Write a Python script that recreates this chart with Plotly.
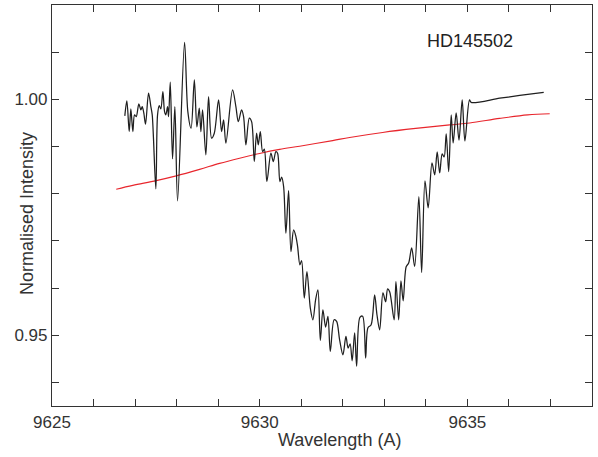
import plotly.graph_objects as go

# Observed spectrum (black)
wave_obs = [9626.753, 9626.802, 9626.859, 9626.898, 9626.946, 9626.987, 9627.028, 9627.091,
            9627.139, 9627.172, 9627.211, 9627.252, 9627.324, 9627.380, 9627.413, 9627.500,
            9627.541, 9627.582, 9627.620, 9627.669, 9627.710, 9627.741, 9627.782, 9627.806,
            9627.847, 9627.902, 9627.958, 9628.023, 9628.191, 9628.271, 9628.348, 9628.427,
            9628.488, 9628.545, 9628.584, 9628.625, 9628.704, 9628.769, 9628.842, 9628.907,
            9629.010, 9629.082, 9629.131, 9629.186, 9629.347, 9629.427, 9629.485, 9629.564,
            9629.612, 9629.668, 9629.750, 9629.805, 9629.870, 9629.925, 9629.966, 9630.015,
            9630.070, 9630.111, 9630.173, 9630.270, 9630.328, 9630.390, 9630.431, 9630.487,
            9630.528, 9630.576, 9630.631, 9630.696, 9630.752, 9630.817, 9630.872, 9630.913,
            9630.968, 9631.009, 9631.074, 9631.137, 9631.219, 9631.281, 9631.346, 9631.402,
            9631.460, 9631.522, 9631.587, 9631.643, 9631.700, 9631.792, 9631.852, 9631.924,
            9632.004, 9632.076, 9632.129, 9632.177, 9632.226, 9632.286, 9632.334, 9632.413,
            9632.478, 9632.551, 9632.606, 9632.683, 9632.767, 9632.823, 9632.888, 9632.967,
            9633.032, 9633.080, 9633.129, 9633.237, 9633.280, 9633.345, 9633.401, 9633.454,
            9633.526, 9633.586, 9633.659, 9633.731, 9633.832, 9633.899, 9633.979, 9634.056,
            9634.148, 9634.213, 9634.273, 9634.333, 9634.393, 9634.441, 9634.490, 9634.550,
            9634.610, 9634.658, 9634.730, 9634.798, 9634.875, 9634.940, 9635.051, 9635.092,
            9635.778, 9636.260, 9636.838]
flux_obs = [0.99649, 0.99967, 0.99316, 0.99797, 0.99316, 0.99670, 0.99634, 0.99903,
            0.99776, 0.99846, 0.99706, 0.99473, 1.00130, 0.99846, 0.99670, 0.98102,
            0.99670, 0.99867, 0.99797, 1.00164, 0.99740, 0.99670, 0.99846, 0.99634,
            1.00363, 0.98738, 0.99846, 0.97848, 1.01210, 0.99734, 0.99388, 1.00411,
            0.99416, 0.99812, 0.99316, 0.99776, 0.98823, 1.00058, 0.99176, 0.99282,
            0.99988, 0.99316, 0.99564, 0.99070, 1.00200, 0.99846, 0.99528, 0.99776,
            0.99634, 0.99035, 0.99600, 0.99528, 0.98681, 0.99282, 0.99035, 0.99316,
            0.98893, 0.98943, 0.98257, 0.98859, 0.98681, 0.98893, 0.98859, 0.98257,
            0.98350, 0.98151, 0.97164, 0.98067, 0.96774, 0.97234, 0.97092, 0.96880,
            0.96493, 0.96584, 0.95787, 0.96351, 0.95575, 0.95328, 0.95751, 0.95963,
            0.94889, 0.95539, 0.95173, 0.95398, 0.94656, 0.95328, 0.95292, 0.94904,
            0.94586, 0.94974, 0.94728, 0.94819, 0.94459, 0.95052, 0.94343, 0.95381,
            0.95402, 0.94516, 0.95158, 0.95222, 0.95857, 0.95434, 0.95116, 0.95900,
            0.95709, 0.95984, 0.95921, 0.95328, 0.96139, 0.95328, 0.96154, 0.95730,
            0.96450, 0.96529, 0.96853, 0.96457, 0.97939, 0.96330, 0.98272, 0.97700,
            0.98653, 0.98399, 0.98886, 0.98441, 0.98844, 0.98780, 0.99268, 0.98469,
            0.99670, 0.99077, 0.99712, 0.99134, 0.99988, 0.99119, 0.99988, 0.99935,
            1.00024, 1.00083, 1.00147]

# Model / continuum curve (red)
wave_model = [9626.546, 9626.946, 9627.510, 9627.991, 9628.553, 9629.034, 9629.516, 9629.998,
              9630.479, 9630.961, 9631.756, 9632.165, 9632.960, 9633.755, 9634.574, 9635.056,
              9635.778, 9636.452, 9636.982]
flux_model = [0.98096, 0.98177, 0.98278, 0.98378, 0.98516, 0.98643, 0.98753, 0.98854,
              0.98939, 0.99007, 0.99126, 0.99193, 0.99299, 0.99384, 0.99458, 0.99500,
              0.99596, 0.99670, 0.99695]

star_name = "HD145502"
x_title = "Wavelength (A)"
y_title = "Normalised Intensity"

FONT = "Liberation Sans, Arial, sans-serif"
AX = "#333333"

fig = go.Figure()
fig.add_trace(go.Scatter(x=wave_model, y=flux_model, mode="lines",
                         line=dict(color="#e8262d", width=1.1, shape="spline", smoothing=1.0),
                         showlegend=False, hoverinfo="skip"))
fig.add_trace(go.Scatter(x=wave_obs, y=flux_obs, mode="lines",
                         line=dict(color="#1f1f1f", width=1.25, shape="spline", smoothing=0.9),
                         showlegend=False, hoverinfo="skip"))

fig.add_annotation(x=9635.07, y=1.0124, xref="x", yref="y", text=star_name,
                   showarrow=False, xanchor="center", yanchor="middle",
                   font=dict(family=FONT, size=18, color="#222222"))
fig.add_annotation(x=0.533, y=-0.085, xref="paper", yref="paper", text=x_title,
                   showarrow=False, xanchor="center", yanchor="middle",
                   font=dict(family=FONT, size=18, color=AX))
fig.add_annotation(x=-0.046, y=0.479, xref="paper", yref="paper", text=y_title,
                   textangle=-90, showarrow=False, xanchor="center", yanchor="middle",
                   font=dict(family=FONT, size=18, color=AX))

fig.update_xaxes(range=[9625, 9638], tickmode="linear", tick0=9625, dtick=5,
                 ticks="inside", ticklen=7, tickwidth=1, tickcolor=AX,
                 showline=True, linecolor=AX, linewidth=1.2, mirror="ticks",
                 showgrid=False, zeroline=False, automargin=False,
                 minor=dict(dtick=1, tick0=9625, ticks="inside", ticklen=7, tickcolor=AX, tickwidth=1, showgrid=False),
                 tickfont=dict(family=FONT, size=17, color=AX))
fig.update_yaxes(range=[0.935, 1.02], tickmode="linear", tick0=0.95, dtick=0.05, tickformat=".2f",
                 ticks="inside", ticklen=7, tickwidth=1, tickcolor=AX,
                 showline=True, linecolor=AX, linewidth=1.2, mirror="ticks",
                 showgrid=False, zeroline=False, automargin=False,
                 minor=dict(dtick=0.01, tick0=0.95, ticks="inside", ticklen=7, tickcolor=AX, tickwidth=1, showgrid=False),
                 tickfont=dict(family=FONT, size=17, color=AX))

fig.update_layout(width=598, height=457, margin=dict(l=52, r=6, t=5, b=51),
                  paper_bgcolor="white", plot_bgcolor="white")

fig.write_html("out.html", config={"displayModeBar": False},
               post_script="document.body.style.margin='0';")
